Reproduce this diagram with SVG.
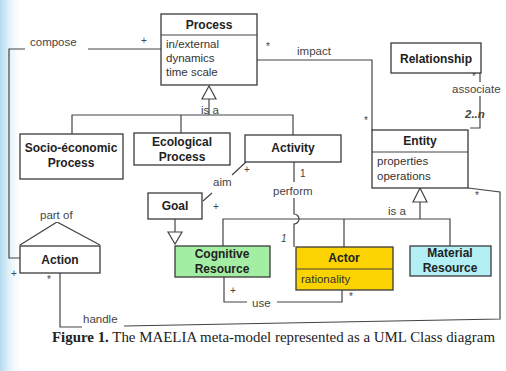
<svg xmlns="http://www.w3.org/2000/svg" width="506" height="371" viewBox="0 0 506 371">
<defs>
<linearGradient id="bg" x1="0" y1="0" x2="1" y2="0">
<stop offset="0" stop-color="#a9d6ee" stop-opacity="0.9"/>
<stop offset="1" stop-color="#ffffff" stop-opacity="0"/>
</linearGradient>
<style>
.box{fill:#fff;stroke:#3a3a3a;stroke-width:1.3}
.ln{fill:none;stroke:#444;stroke-width:1.2}
.t{font-family:"Liberation Sans",Arial,sans-serif;font-size:12px;font-weight:bold;fill:#222;text-anchor:middle}
.a{font-family:"Liberation Sans",Arial,sans-serif;font-size:11.5px;fill:#333}
.l{font-family:"Liberation Sans",Arial,sans-serif;font-size:11.5px;fill:#444}
.m{font-family:"Liberation Sans",Arial,sans-serif;font-size:10px;fill:#444}
.tri{fill:#fff;stroke:#444;stroke-width:1.2}
</style>
</defs>
<rect width="506" height="371" fill="#fff"/>
<rect x="0" y="0" width="24" height="371" fill="url(#bg)"/>

<g id="connectors">
<!-- compose -->
<path class="ln" d="M161,49 H88 M25,49 H9 V258 H20"/>
<text class="l" x="30" y="46">compose</text>
<text class="m" x="141" y="44">+</text>
<text class="m" x="11" y="277">+</text>
<!-- impact -->
<path class="ln" d="M257,60 H372 V130"/>
<text class="l" x="297" y="55">impact</text>
<text class="m" x="266" y="50">*</text>
<text class="m" x="364" y="124">*</text>
<!-- associate -->
<path class="ln" d="M480,73 V82 M480,96 V128 H470"/>
<text class="l" x="452" y="93">associate</text>
<text class="m" x="472" y="80" font-size="8">*</text>
<text class="l" x="465" y="118" font-style="italic" font-weight="bold">2..n</text>
<!-- is a (Process) -->
<polygon class="tri" points="209,86 202,99 216,99"/>
<path class="ln" d="M209,99 V115 M72,134 V115 H293 V135 M181,115 V133"/>
<text class="l" x="201" y="114">is a</text>
<!-- aim -->
<path class="ln" d="M246,162 L232,175 M212,193 L203,201"/>
<text class="l" x="213" y="186">aim</text>
<text class="m" x="244" y="173">+</text>
<text class="m" x="213" y="210">+</text>
<!-- perform -->
<path class="ln" d="M294,162 V182 M294,198 V214 A5,5 0 0 1 294,224 V247"/>
<text class="l" x="273" y="195">perform</text>
<text class="m" x="300" y="177">1</text>
<text class="m" x="281" y="242" font-style="italic">1</text>
<!-- Goal to Cognitive -->
<path class="ln" d="M175,219 V232"/>
<polygon class="tri" points="175,244 168,232 182,232"/>
<!-- is a (Entity) -->
<polygon class="tri" points="420,188 413,202 427,202"/>
<path class="ln" d="M420,202 V219 M223,246 V219 H450 V246 M344,219 V247"/>
<text class="l" x="388" y="215">is a</text>
<!-- use -->
<path class="ln" d="M224,277 V302 H247 M277,302 H342 V290"/>
<text class="l" x="252" y="307">use</text>
<text class="m" x="230" y="294">+</text>
<text class="m" x="349" y="300">*</text>
<!-- handle -->
<path class="ln" d="M60,273 V327 H82 M124,326 L500,319 V192 L468,188"/>
<text class="l" x="83" y="323">handle</text>
<text class="m" x="47" y="283">*</text>
<text class="m" x="475" y="199">*</text>
<!-- part of -->
<polyline class="ln" points="20,245 57,222 100,245"/>
<rect x="40" y="211" width="30" height="11" fill="#fff"/>
<text class="l" x="40" y="219">part of</text>
</g>

<g id="process">
<rect class="box" x="161" y="14" width="96" height="71"/>
<line class="ln" x1="161" y1="35" x2="257" y2="35"/>
<text class="t" x="209" y="29">Process</text>
<text class="a" x="166" y="48">in/external</text>
<text class="a" x="166" y="62">dynamics</text>
<text class="a" x="166" y="76">time scale</text>
</g>

<g id="relationship">
<rect class="box" x="391" y="43" width="90" height="30"/>
<text class="t" x="436" y="63">Relationship</text>
</g>

<g id="entity">
<rect class="box" x="372" y="130" width="96" height="58"/>
<line class="ln" x1="372" y1="152" x2="468" y2="152"/>
<text class="t" x="420" y="145">Entity</text>
<text class="a" x="377" y="165">properties</text>
<text class="a" x="377" y="180">operations</text>
</g>

<g id="socio">
<rect class="box" x="20" y="134" width="103" height="45"/>
<text class="t" x="71" y="152">Socio-économic</text>
<text class="t" x="71" y="167">Process</text>
</g>

<g id="ecological">
<rect class="box" x="134" y="133" width="96" height="32"/>
<text class="t" x="182" y="146">Ecological</text>
<text class="t" x="182" y="161">Process</text>
</g>

<g id="activity">
<rect class="box" x="245" y="135" width="96" height="27"/>
<text class="t" x="293" y="152">Activity</text>
</g>

<g id="goal">
<rect class="box" x="148" y="193" width="54" height="26"/>
<text class="t" x="175" y="210">Goal</text>
</g>

<g id="action">
<rect class="box" x="20" y="246" width="80" height="27"/>
<text class="t" x="60" y="264">Action</text>
</g>

<g id="cognitive">
<rect class="box" x="175" y="246" width="95" height="31" style="fill:#a4eea4"/>
<text class="t" x="222" y="258">Cognitive</text>
<text class="t" x="222" y="273">Resource</text>
</g>

<g id="actor">
<rect class="box" x="296" y="247" width="97" height="43" style="fill:#fad300"/>
<line class="ln" x1="296" y1="269" x2="393" y2="269"/>
<text class="t" x="344" y="262">Actor</text>
<text class="a" x="301" y="283">rationality</text>
</g>

<g id="material">
<rect class="box" x="410" y="246" width="81" height="30" style="fill:#b2f0f6"/>
<text class="t" x="450" y="257">Material</text>
<text class="t" x="450" y="272">Resource</text>
</g>

<text x="52" y="342" font-family="'Liberation Serif','Times New Roman',serif" font-size="14" fill="#222" textLength="443" lengthAdjust="spacingAndGlyphs"><tspan font-weight="bold">Figure 1.</tspan> The MAELIA meta-model represented as a UML Class diagram</text>
</svg>
